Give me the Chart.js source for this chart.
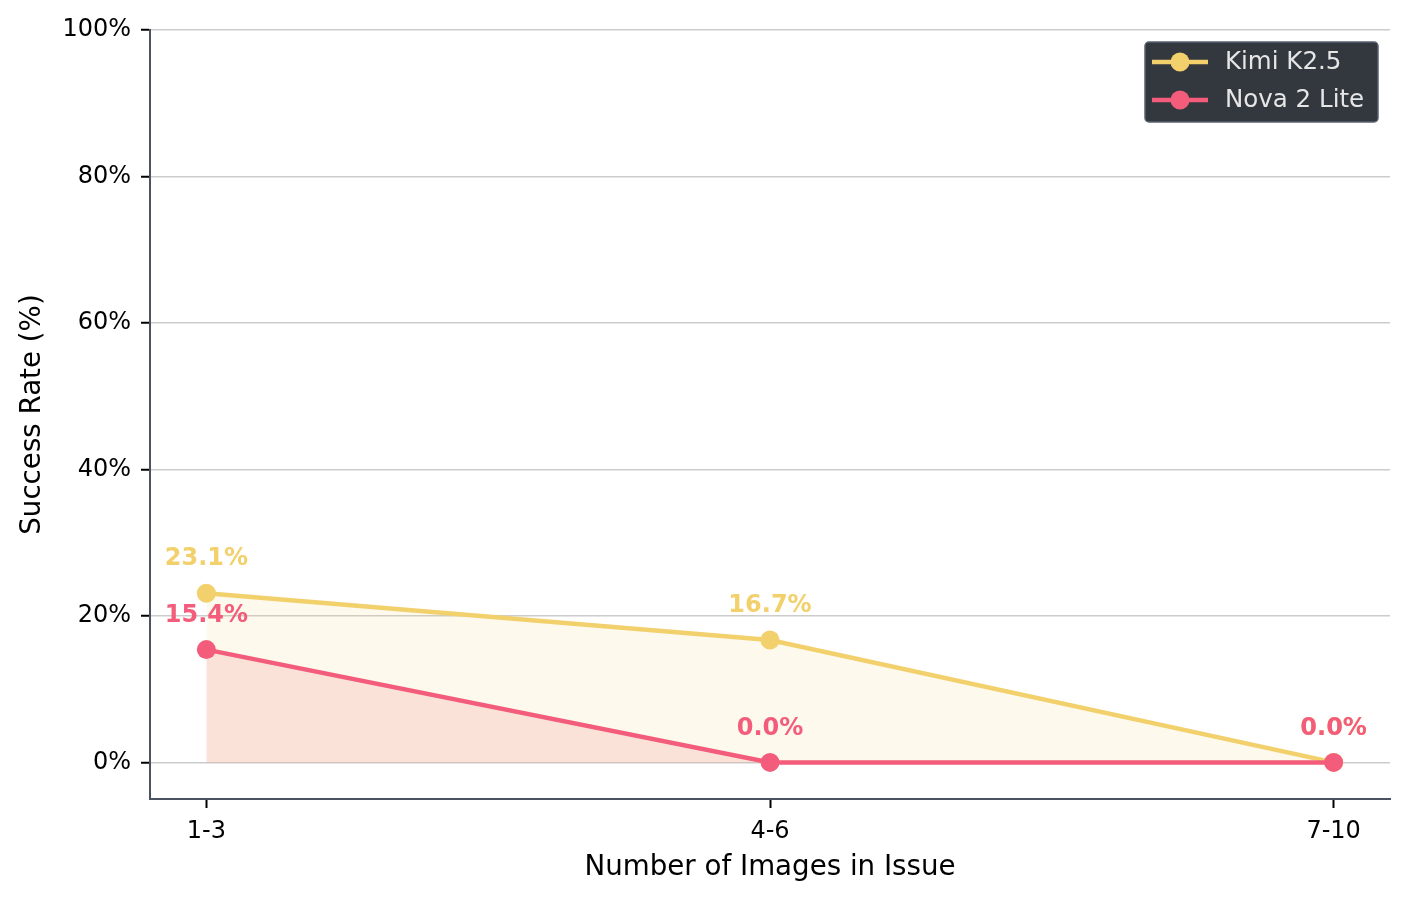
<!DOCTYPE html>
<html>
<head>
<meta charset="utf-8">
<script src="https://cdn.jsdelivr.net/npm/chart.js@4/dist/chart.umd.min.js"></script>
<style>
  html, body { margin: 0; padding: 0; background: #fff; }
  #wrap { width: 1409px; height: 902px; position: relative; }
</style>
</head>
<body>
<div id="wrap"><canvas id="rateChart"></canvas></div>
<script>
// data
const categories = ['1-3', '4-6', '7-10'];
const kimiValues = [23.1, 16.7, 0.0];
const novaValues = [15.4, 0.0, 0.0];
const yTicks = [0, 20, 40, 60, 80, 100];
const seriesNames = ['Kimi K2.5', 'Nova 2 Lite'];

const KIMI = '#F2D06B';
const NOVA = '#F35D7B';
const FONT = "'DejaVu Sans', sans-serif";

function toPoints(values) {
    return values.map(function (v, i) { return { x: i, y: v }; });
}

// labels above each point, drawn Kimi first so Nova sits on top
const valueLabels = {
    id: 'valueLabels',
    afterDatasetsDraw: function (chart) {
        const ctx = chart.ctx;
        ctx.save();
        ctx.font = 'bold 24px ' + FONT;
        ctx.textAlign = 'center';
        ctx.textBaseline = 'middle';
        [0, 1].forEach(function (di) {
            const meta = chart.getDatasetMeta(di);
            const ds = chart.data.datasets[di];
            ctx.fillStyle = ds.borderColor;
            meta.data.forEach(function (pt, i) {
                ctx.fillText(ds.data[i].y.toFixed(1) + '%', pt.x, pt.y - 34);
            });
        });
        ctx.restore();
    }
};

// legend box inside the top right corner of the plot
const boxLegend = {
    id: 'boxLegend',
    afterDraw: function (chart) {
        const ctx = chart.ctx;
        const area = chart.chartArea;
        const w = 233, h = 80;
        const x = area.right - 12 - w;
        const y = area.top + 12;
        ctx.save();
        ctx.beginPath();
        ctx.roundRect(x, y, w, h, 4);
        ctx.fillStyle = '#33373E';
        ctx.fill();
        ctx.lineWidth = 1.5;
        ctx.strokeStyle = '#5A6272';
        ctx.stroke();
        ctx.font = '24.5px ' + FONT;
        ctx.textBaseline = 'middle';
        ctx.textAlign = 'left';
        chart.data.datasets.forEach(function (ds, i) {
            const cy = y + 20 + i * 38;
            ctx.strokeStyle = ds.borderColor;
            ctx.lineWidth = 4.5;
            ctx.beginPath();
            ctx.moveTo(x + 7, cy);
            ctx.lineTo(x + 63, cy);
            ctx.stroke();
            ctx.fillStyle = ds.borderColor;
            ctx.beginPath();
            ctx.arc(x + 35, cy, 9.5, 0, Math.PI * 2);
            ctx.fill();
            ctx.fillStyle = '#E6E6E6';
            ctx.fillText(ds.label, x + 80, cy + 1);
        });
        ctx.restore();
    }
};

const ctxRate = document.getElementById('rateChart').getContext('2d');
const rateChart = new Chart(ctxRate, {
    type: 'line',
    data: {
        datasets: [
            {
                label: seriesNames[0],
                data: toPoints(kimiValues),
                borderColor: KIMI,
                backgroundColor: 'rgba(242, 208, 107, 0.13)',
                pointBackgroundColor: KIMI,
                fill: 'origin',
                order: 2
            },
            {
                label: seriesNames[1],
                data: toPoints(novaValues),
                borderColor: NOVA,
                backgroundColor: 'rgba(240, 100, 110, 0.15)',
                pointBackgroundColor: NOVA,
                fill: 'origin',
                order: 1
            }
        ]
    },
    options: {
        responsive: true,
        maintainAspectRatio: false,
        animation: false,
        devicePixelRatio: 1,
        layout: { padding: { top: 30, right: 19, left: 0, bottom: 0 } },
        elements: {
            line: { borderWidth: 4.5, tension: 0 },
            point: { radius: 9.5, borderWidth: 0, hoverRadius: 9.5 }
        },
        plugins: {
            legend: { display: false },
            tooltip: { enabled: false }
        },
        scales: {
            x: {
                type: 'linear',
                min: -0.1,
                max: 2.1,
                afterBuildTicks: function (scale) {
                    scale.ticks = categories.map(function (c, i) { return { value: i }; });
                },
                afterFit: function (scale) { scale.height = 103; },
                ticks: {
                    callback: function (v) { return categories[v]; },
                    color: '#000',
                    font: { family: FONT, size: 24 },
                    padding: 9,
                    maxRotation: 0
                },
                grid: {
                    drawOnChartArea: false,
                    drawTicks: true,
                    tickLength: 9,
                    tickColor: '#000',
                    tickWidth: 2
                },
                border: { color: '#4B5361', width: 2 },
                title: {
                    display: true,
                    text: 'Number of Images in Issue',
                    color: '#000',
                    font: { family: FONT, size: 27.7 },
                    padding: { top: 0, bottom: 18 }
                }
            },
            y: {
                min: -5,
                max: 100,
                afterBuildTicks: function (scale) {
                    scale.ticks = yTicks.map(function (v) { return { value: v }; });
                },
                afterFit: function (scale) { scale.width = 150; },
                ticks: {
                    callback: function (v) { return v + '%'; },
                    color: '#000',
                    font: { family: FONT, size: 24 },
                    padding: 10
                },
                grid: {
                    color: '#CCCCCC',
                    lineWidth: 1.5,
                    tickLength: 9,
                    tickColor: '#000',
                    tickWidth: 2
                },
                border: { color: '#4B5361', width: 2 },
                title: {
                    display: true,
                    text: 'Success Rate (%)',
                    color: '#000',
                    font: { family: FONT, size: 27.7 },
                    padding: { top: 16, bottom: 0 }
                }
            }
        }
    },
    plugins: [valueLabels, boxLegend]
});
</script>
</body>
</html>
